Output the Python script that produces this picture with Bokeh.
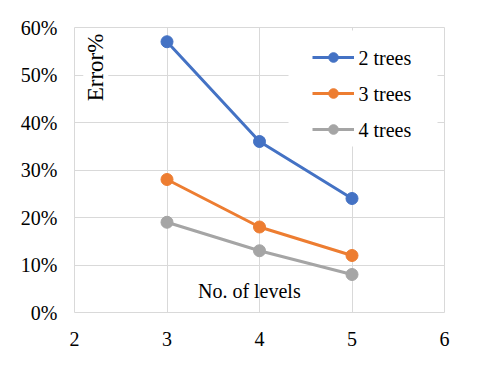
from bokeh.plotting import figure
from bokeh.models import (Range1d, FixedTicker, Label, Legend, LegendItem, Grid, BoxAnnotation)
from bokeh.embed import file_html
from bokeh.resources import INLINE
import math

levels = [3, 4, 5]
series_names = ["2 trees", "3 trees", "4 trees"]
err_2 = [0.57, 0.36, 0.24]
err_3 = [0.28, 0.18, 0.12]
err_4 = [0.19, 0.13, 0.08]
colors = ["#4472C4", "#ED7D31", "#A5A5A5"]
x_ticks = [2, 3, 4, 5, 6]
y_ticks = [0, 0.1, 0.2, 0.3, 0.4, 0.5, 0.6]
x_tick_labels = ["2", "3", "4", "5", "6"]
y_tick_labels = ["0%", "10%", "20%", "30%", "40%", "50%", "60%"]

FONT = "Liberation Serif"
FS = "20px"

# page layout (pixels): whole figure, and the inner plot box
W, H = 469, 359
BOX_L, BOX_T, BOX_W, BOX_H = 74, 27, 370, 285
x0, x1 = x_ticks[0], x_ticks[-1]
y0, y1 = y_ticks[0], y_ticks[-1]
sx = BOX_W / (x1 - x0)
sy = BOX_H / (y1 - y0)
xr = Range1d(x0 - BOX_L / sx, x1 + (W - BOX_L - BOX_W) / sx)
yr = Range1d(y0 - (H - BOX_T - BOX_H) / sy, y1 + BOX_T / sy)

p = figure(width=W, height=H, output_backend="svg", toolbar_location=None,
           x_range=xr, y_range=yr, x_axis_location=None, y_axis_location=None,
           min_border=0)
p.outline_line_color = None
p.background_fill_color = "white"
p.border_fill_color = "white"
p.grid.visible = False

gx = Grid(dimension=0, ticker=FixedTicker(ticks=x_ticks), cross_bounds=(y0, y1),
          grid_line_color="#d9d9d9")
gy = Grid(dimension=1, ticker=FixedTicker(ticks=y_ticks), cross_bounds=(x0, x1),
          grid_line_color="#d9d9d9")
p.add_layout(gx, "center")
p.add_layout(gy, "center")

# white legend panel (pixel box 288..437 x 30..146), hides the grid behind the legend
p.add_layout(BoxAnnotation(left=x0 + (288 - BOX_L) / sx, right=x0 + (437 - BOX_L) / sx,
                           top=y0 + (BOX_T + BOX_H - 30) / sy,
                           bottom=y0 + (BOX_T + BOX_H - 146) / sy,
                           fill_color="white", fill_alpha=1, line_color=None,
                           level="underlay"))

# tick labels at the tick values
for t, s in zip(y_ticks, y_tick_labels):
    p.add_layout(Label(x=x0, y=t, text=s, x_offset=-17,
                       text_font=FONT, text_font_size=FS, text_color="black",
                       text_align="right", text_baseline="middle"))
for t, s in zip(x_ticks, x_tick_labels):
    p.add_layout(Label(x=t, y=y0, text=s, y_offset=-26,
                       text_font=FONT, text_font_size=FS, text_color="black",
                       text_align="center", text_baseline="middle"))

items = []
for name, vals, c in zip(series_names, [err_2, err_3, err_4], colors):
    l = p.line(levels, vals, line_color=c, line_width=3)
    s = p.scatter(levels, vals, size=12, fill_color=c, line_color=c)
    items.append(LegendItem(label=" ", renderers=[l, s]))

legend = Legend(items=items, location=(312, 218))
legend.label_text_font_size = FS
legend.label_text_alpha = 0
legend.border_line_color = None
legend.background_fill_alpha = 0
legend.glyph_width = 42
legend.glyph_height = 24
legend.label_height = 24
legend.label_width = 65
legend.spacing = 12
legend.padding = 14
legend.label_standoff = 4
legend.margin = 0
p.add_layout(legend, "center")

# legend texts next to the legend glyphs
for i, name in enumerate(series_names):
    p.add_layout(Label(x=x1, y=y1, text=name,
                       x_offset=-86, y_offset=-30 - 36 * i,
                       text_font=FONT, text_font_size=FS, text_color="black",
                       text_align="left", text_baseline="middle"))

p.add_layout(Label(x=2.23, y=0.516, text="Error%", angle=math.pi / 2,
                   text_font=FONT, text_font_size="23px", text_align="center",
                   text_color="black",
                   text_baseline="middle", background_fill_color="white"))
p.add_layout(Label(x=3.89, y=0.045, text="No. of levels",
                   text_font=FONT, text_font_size=FS, text_align="center",
                   text_color="black",
                   text_baseline="middle"))

open("out.html", "w").write(file_html(p, INLINE))
